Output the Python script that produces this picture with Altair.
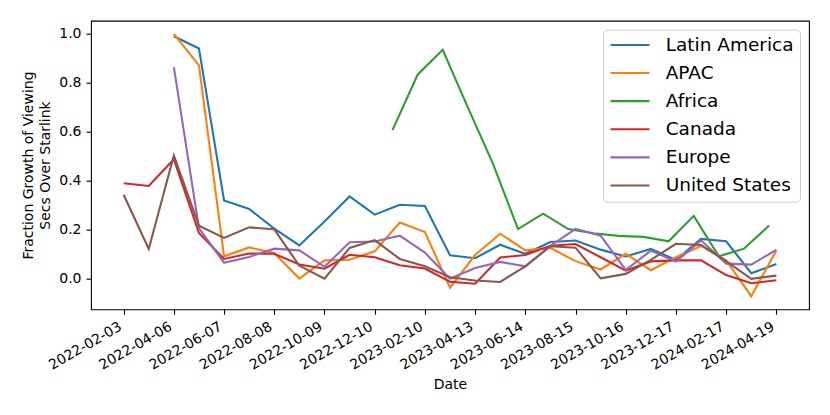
import altair as alt
import pandas as pd

DATES = [
    "2022-02-03", "2022-03-06", "2022-04-06", "2022-05-07", "2022-06-07",
    "2022-07-08", "2022-08-08", "2022-09-08", "2022-10-09", "2022-11-09",
    "2022-12-10", "2023-01-10", "2023-02-10", "2023-03-13", "2023-04-13",
    "2023-05-14", "2023-06-14", "2023-07-15", "2023-08-15", "2023-09-15",
    "2023-10-16", "2023-11-16", "2023-12-17", "2024-01-17", "2024-02-17",
    "2024-03-19", "2024-04-19",
]
AFRICA_DATES = [
    "2023-01-01", "2023-02-01", "2023-03-04", "2023-04-04", "2023-05-05",
    "2023-06-05", "2023-07-06", "2023-08-06", "2023-09-06", "2023-10-07",
    "2023-11-07", "2023-12-08", "2024-01-08", "2024-02-08", "2024-03-10",
    "2024-04-10",
]

LATIN_AMERICA = [None, None, 0.99, 0.94, 0.32, 0.285, 0.205, 0.136, 0.234, 0.336,
                 0.262, 0.302, 0.297, 0.096, 0.084, 0.139, 0.102, 0.150, 0.156,
                 0.119, 0.091, 0.122, 0.077, 0.163, 0.153, 0.023, 0.060]
APAC = [None, None, 1.0, 0.871, 0.092, 0.128, 0.105, 0.001, 0.075, 0.078,
        0.112, 0.230, 0.191, -0.036, 0.097, 0.184, 0.116, 0.126, 0.072,
        0.038, 0.102, 0.035, 0.088, 0.134, 0.075, -0.071, 0.115]
AFRICA = [0.607, 0.833, 0.935, 0.70, 0.47, 0.203, 0.266, 0.203, 0.186, 0.175,
          0.171, 0.153, 0.257, 0.092, 0.123, 0.217]
CANADA = [0.390, 0.379, 0.488, 0.187, 0.081, 0.103, 0.102, 0.058, 0.041, 0.098,
          0.088, 0.055, 0.042, -0.012, -0.020, 0.087, 0.097, 0.135, 0.142,
          0.088, 0.033, 0.071, 0.075, 0.075, 0.015, -0.018, -0.006]
EUROPE = [None, None, 0.864, 0.207, 0.065, 0.089, 0.123, 0.116, 0.049, 0.149,
          0.152, 0.176, 0.107, 0.0, 0.044, 0.069, 0.051, 0.134, 0.204,
          0.176, 0.036, 0.115, 0.070, 0.157, 0.062, 0.058, 0.118]
UNITED_STATES = [0.343, 0.122, 0.503, 0.217, 0.167, 0.210, 0.202, 0.053, 0.0, 0.126,
                 0.158, 0.081, 0.051, 0.006, -0.007, -0.013, 0.051, 0.133, 0.127,
                 0.002, 0.020, 0.077, 0.143, 0.138, 0.072, 0.0, 0.013]

SERIES = ["Latin America", "APAC", "Africa", "Canada", "Europe", "United States"]
COLORS = ["#1f77b4", "#ff7f0e", "#2ca02c", "#d62728", "#9467bd", "#8c564b"]
X_TICKS = DATES[::2]
Y_TICKS = [0.0, 0.2, 0.4, 0.6, 0.8, 1.0]

series_data = [
    ("Latin America", DATES, LATIN_AMERICA),
    ("APAC", DATES, APAC),
    ("Africa", AFRICA_DATES, AFRICA),
    ("Canada", DATES, CANADA),
    ("Europe", DATES, EUROPE),
    ("United States", DATES, UNITED_STATES),
]
rows = []
for name, dts, vals in series_data:
    for d, v in zip(dts, vals):
        if v is not None:
            rows.append({"date": d, "region": name, "value": v})
df = pd.DataFrame(rows)


def ms(s):
    return int(pd.Timestamp(s, tz="UTC").timestamp() * 1000)


span = ms(DATES[-1]) - ms(DATES[0])
x_domain = [ms(DATES[0]) - 0.05 * span, ms(DATES[-1]) + 0.05 * span]
y_lo, y_hi = -0.071, 1.0
y_domain = [y_lo - 0.05 * (y_hi - y_lo), y_hi + 0.05 * (y_hi - y_lo)]

chart = alt.Chart(df).mark_line(strokeWidth=2.1, clip=True).encode(
    x=alt.X(
        "date:T",
        scale=alt.Scale(type="utc", domain=x_domain, nice=False),
        axis=alt.Axis(
            values=[ms(t) for t in X_TICKS],
            labelExpr="utcFormat(datum.value, '%Y-%m-%d')",
            labelAngle=-30,
            labelAlign="right",
            labelBaseline="top",
            labelOffset=-7,
            labelOverlap=False,
            labelFlush=False,
            labelBound=False,
            tickSize=5,
            labelPadding=5,
            title="Date",
            titlePadding=5,
        ),
    ),
    y=alt.Y(
        "value:Q",
        scale=alt.Scale(domain=y_domain, nice=False, zero=False),
        axis=alt.Axis(
            values=Y_TICKS,
            format=".1f",
            labelFlush=False,
            labelOverlap=False,
            tickSize=5,
            labelPadding=5,
            title=["Fraction Growth of Viewing", "Secs Over Starlink"],
            titleLineHeight=16.8,
            titlePadding=6,
        ),
    ),
    color=alt.Color(
        "region:N",
        scale=alt.Scale(domain=SERIES, range=COLORS),
        sort=SERIES,
        title=None,
        legend=alt.Legend(
            orient="top-right",
            offset=9,
            fillColor="rgba(255,255,255,0.8)",
            strokeColor="#cccccc",
            cornerRadius=4,
            padding=6,
            labelFontSize=18.5,
            labelFont="DejaVu Sans",
            labelColor="black",
            labelLimit=300,
            symbolType="stroke",
            symbolSize=1521,
            symbolStrokeWidth=2.1,
            clipHeight=18.5,
            rowPadding=9.1,
            labelOffset=14.7,
            symbolOffset=0,
        ),
    ),
).properties(
    width=718,
    height=288.6,
    padding={"left": 83, "top": 12.7, "right": 10, "bottom": 90},
    autosize=alt.AutoSizeParams(type="none"),
).configure_view(
    stroke="black", strokeWidth=1.1
).configure_axis(
    labelFont="DejaVu Sans",
    labelFontSize=14,
    labelColor="black",
    titleFont="DejaVu Sans",
    titleFontSize=14,
    titleFontWeight="normal",
    titleColor="black",
    tickColor="black",
    tickWidth=1.1,
    grid=False,
    domain=False,
)

chart.save("out.html", embed_options={"renderer": "svg", "actions": False})
